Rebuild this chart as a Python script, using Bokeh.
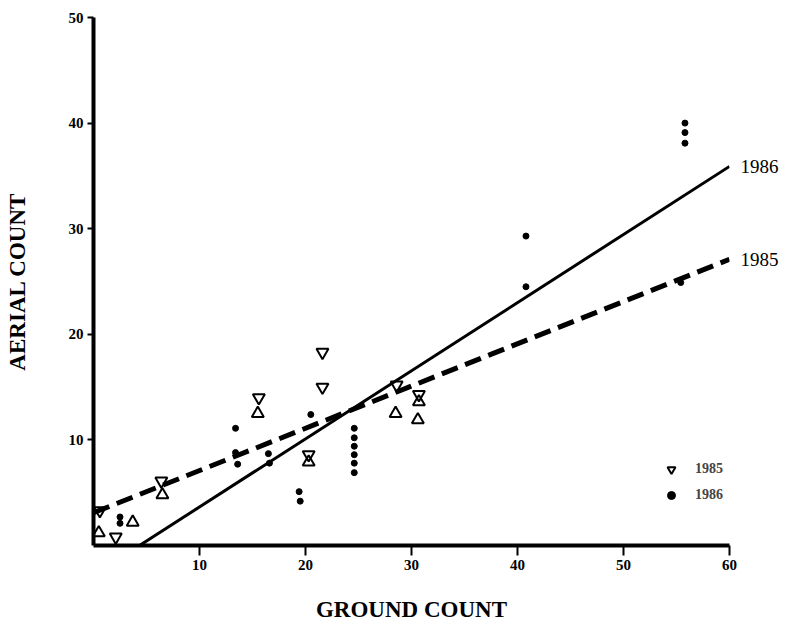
import math
from bokeh.plotting import figure
from bokeh.models import FixedTicker, Legend, LegendItem, Range1d, LinearAxis
from bokeh.embed import file_html
from bokeh.resources import INLINE

# ---- data ----
x_ticks = [10, 20, 30, 40, 50, 60]
y_ticks = [10, 20, 30, 40, 50]

# 1985 counts (inverted triangles)
down85_x = [0.6, 2.1, 6.4, 15.6, 21.6, 21.6, 20.3, 28.6, 30.7]
down85_y = [3.3, 0.8, 6.1, 14.0, 18.3, 15.0, 8.6, 15.2, 14.3]
# 1985 counts drawn with upright triangles
up85_x = [0.5, 3.7, 6.5, 15.5, 20.3, 28.5, 30.7, 30.6]
up85_y = [1.2, 2.2, 4.8, 12.5, 7.9, 12.5, 13.6, 11.9]
# 1986 counts (dots)
dot86_x = [2.5, 2.5, 13.4, 13.4, 13.6, 16.5, 16.6, 19.4, 19.5, 20.5,
           24.6, 24.6, 24.6, 24.6, 24.6, 24.6, 40.8, 40.8, 55.8, 55.8, 55.8, 55.4]
dot86_y = [2.7, 2.1, 11.1, 8.8, 7.7, 8.7, 7.8, 5.1, 4.2, 12.4,
           11.1, 10.2, 9.4, 8.6, 7.8, 6.9, 29.3, 24.5, 40.0, 39.1, 38.1, 24.9]

# fitted lines: (intercept, slope)
fit85 = (3.1, 0.40)
fit86 = (-2.8, 0.645)
x_max = 60
line_labels = ["1985", "1986"]

SERIF = "Liberation Serif"

p = figure(width=786, height=625, x_range=Range1d(0, 60), y_range=Range1d(0, 50),
           output_backend="svg", toolbar_location=None,
           min_border_left=93, min_border_right=57, min_border_top=17, min_border_bottom=80)
p.outline_line_color = None
p.grid.visible = False
p.background_fill_color = "white"
p.border_fill_color = "white"

for ax in (p.xaxis[0], p.yaxis[0]):
    ax.axis_line_width = 4
    ax.axis_line_color = "black"
    ax.major_tick_line_width = 2
    ax.major_tick_line_color = "black"
    ax.minor_tick_line_color = None
    ax.major_tick_in = 0
    ax.major_label_text_font = SERIF
    ax.major_label_text_font_style = "bold"
    ax.major_label_text_font_size = "15px"
    ax.major_label_text_color = "black"
    ax.axis_label_text_font = SERIF
    ax.axis_label_text_font_style = "bold"
    ax.axis_label_text_font_size = "23px"
    ax.axis_label_text_color = "black"
p.xaxis.ticker = FixedTicker(ticks=x_ticks)
p.xaxis.major_tick_out = 10
p.xaxis.major_label_standoff = 4
p.xaxis.axis_label = "GROUND COUNT"
p.xaxis.axis_label_standoff = 24
p.yaxis.ticker = FixedTicker(ticks=y_ticks)
p.yaxis.major_tick_out = 6
p.yaxis.major_label_standoff = 4
p.yaxis.axis_label = "AERIAL COUNT"
p.yaxis.axis_label_standoff = 36

# regression lines
a85, b85 = fit85
x85 = [0, x_max]
y85 = [a85 + b85 * v for v in x85]
p.line(x85, y85, line_color="black", line_width=5, line_dash="17 8")

a86, b86 = fit86
x86 = [-a86 / b86, x_max]
y86 = [a86 + b86 * v for v in x86]
p.line(x86, y86, line_color="black", line_width=3)

# points
r_down = p.scatter(down85_x, down85_y, marker="inverted_triangle", size=12,
                   line_color="black", line_width=2, fill_color=None)
r_up = p.scatter(up85_x, up85_y, marker="triangle", size=12,
                 line_color="black", line_width=2, fill_color=None)
r_dot = p.scatter(dot86_x, dot86_y, marker="circle", size=6,
                  line_color="black", fill_color="black")

# line-end labels: a right axis whose ticks sit at the fitted values at x_max
end85 = round(y85[-1], 3)
end86 = round(y86[-1], 3)
lab_axis = LinearAxis(ticker=FixedTicker(ticks=[end85, end86]),
                      major_label_overrides={end85: line_labels[0], end86: line_labels[1]},
                      axis_line_color=None, major_tick_line_color=None,
                      minor_tick_line_color=None, major_tick_in=0, major_tick_out=0,
                      major_label_standoff=11, major_label_text_font=SERIF,
                      major_label_text_font_size="19px", major_label_text_color="black")
p.add_layout(lab_axis, "right")

legend = Legend(items=[LegendItem(label="1985", renderers=[r_down]),
                       LegendItem(label="1986", renderers=[r_dot])],
                location=(568, 40), padding=0, margin=0, spacing=6,
                glyph_width=20, glyph_height=20, label_standoff=14,
                label_text_font=SERIF, label_text_font_style="bold",
                label_text_font_size="14px", border_line_color=None,
                background_fill_alpha=0)
p.add_layout(legend, "center")

open("out.html", "w").write(file_html(p, INLINE))
